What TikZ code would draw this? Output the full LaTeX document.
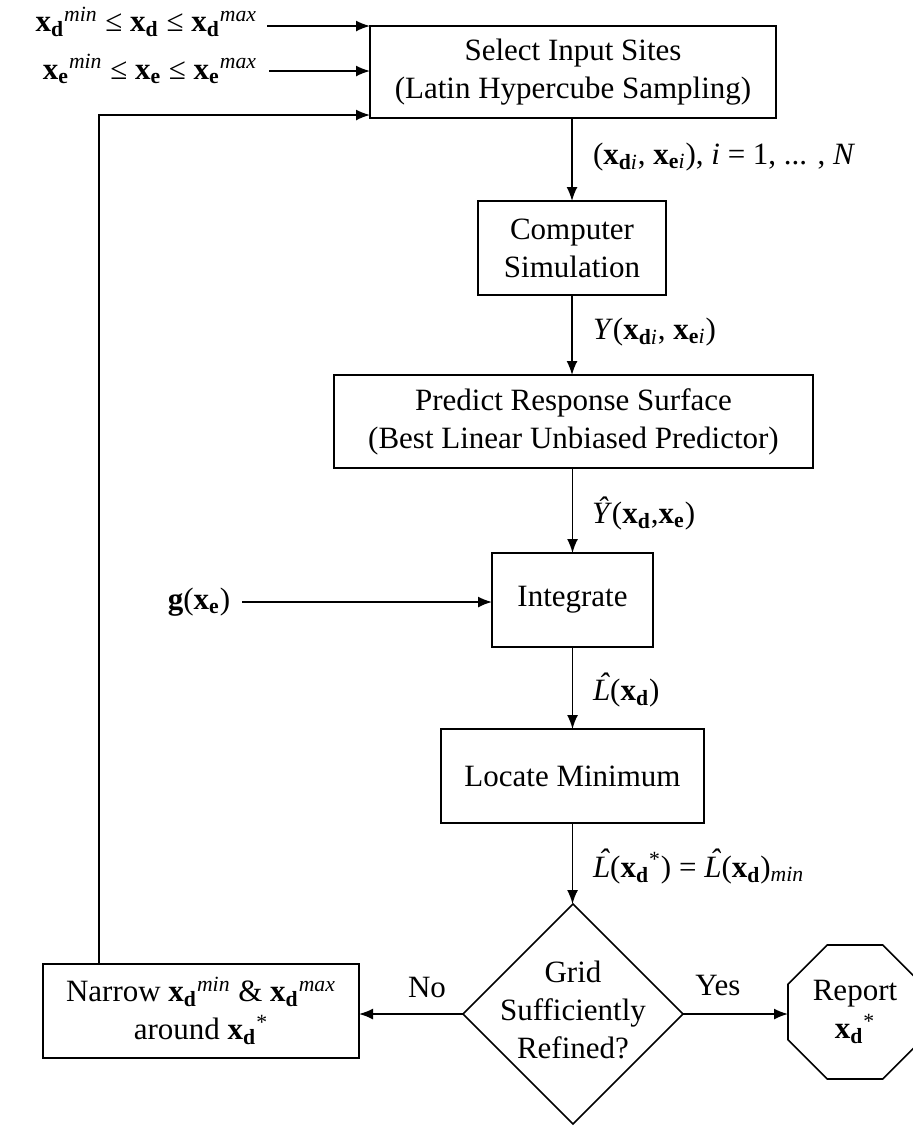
\documentclass[tikz,border=0pt]{standalone}
\usepackage{fontspec}
\setmainfont{Liberation Serif}
\usetikzlibrary{arrows.meta,shapes.geometric,calc}
\newcommand\vxd{\textbf{x}\textsubscript{\textbf{d}}}
\newcommand\vxe{\textbf{x}\textsubscript{\textbf{e}}}
\newcommand\hatL{\textit{\ooalign{L\cr\hidewidth\kern0.12em\raisebox{0.2em}{ˆ}\hidewidth\cr}}}
\begin{document}
\begin{tikzpicture}[x=0.5pt,y=-0.5pt,
  every node/.style={font=\fontsize{15.5}{19}\selectfont, inner sep=0pt, outer sep=0pt},
  box/.style={draw, line width=0.8pt, align=center},
  lbl/.style={anchor=west},
  arr/.style={line width=0.8pt, -{Latex[length=7pt,width=5.5pt]}},
  ln/.style={line width=0.8pt}]
\fill[white] (0,0) rectangle (912,1126);
\useasboundingbox (0,0) rectangle (912,1126);

% main boxes
\node[box, minimum width=203pt, minimum height=46pt] (b1) at (573,72)
  {Select Input Sites\\(Latin Hypercube Sampling)};
\node[box, minimum width=94pt, minimum height=47pt] (b2) at (572,248)
  {Computer\\Simulation};
\node[box, minimum width=239.5pt, minimum height=46.5pt] (b3) at (573.5,421.5)
  {Predict Response Surface\\(Best Linear Unbiased Predictor)};
\node[box, minimum width=80.5pt, minimum height=47pt] (b4) at (572.5,600)
  {Integrate};
\node[box, minimum width=131.5pt, minimum height=47pt] (b5) at (572.5,776)
  {Locate Minimum};
\node[draw, line width=0.8pt, diamond, aspect=1, minimum width=110pt, minimum height=110pt] (dia) at (573,1014) {};
\node[align=center] (diat) at (573,1010) {Grid\\Sufficiently\\Refined?};
\node[box, minimum width=158pt, minimum height=47pt] (nar) at (201,1011)
  {Narrow \vxd\textsuperscript{\textit{min}} \& \vxd\textsuperscript{\textit{max}}\\around \vxd\textsuperscript{*}};
\node[draw, line width=0.8pt, regular polygon, regular polygon sides=8, minimum size=72.5pt] (oct) at (855,1012) {};
\node[align=center] (octt) at (855,1012) {Report\\\vxd\textsuperscript{*}};

% input labels
\node[anchor=east] (in1) at (257,22) {\vxd\textsuperscript{\textit{min}} ≤ \vxd\ ≤ \vxd\textsuperscript{\textit{max}}};
\node[anchor=east] (in2) at (257,69) {\vxe\textsuperscript{\textit{min}} ≤ \vxe\ ≤ \vxe\textsuperscript{\textit{max}}};
\node (g) at (199,602) {\textbf{g}(\vxe)};
\coordinate (s1) at (267,26);
\coordinate (s2) at (269,71);

% edge labels
\node[lbl] (l1) at (593,157) {(\textbf{x}\textsubscript{\textbf{d}\textit{i}}, \textbf{x}\textsubscript{\textbf{e}\textit{i}}), \textit{i} = 1, ... , \textit{N}};
\node[lbl] (l2) at (593,332) {\textit{Y}(\textbf{x}\textsubscript{\textbf{d}\textit{i}}, \textbf{x}\textsubscript{\textbf{e}\textit{i}})};
\node[lbl] (l3) at (592,513) {\textit{\^{Y}}(\vxd,\vxe)};
\node[lbl] (l4) at (593,693) {\hatL(\vxd)};
\node[lbl] (l5) at (593,868) {\hatL(\vxd\textsuperscript{*}) = \hatL(\vxd)\textsubscript{\textit{min}}};
\node (no) at (427,987) {No};
\node (yes) at (718,985) {Yes};

% connectors
\draw[arr] (s1) -- (s1 -| b1.west);
\draw[arr] (s2) -- (s2 -| b1.west);
\draw[arr] (b1.south -| b2.north) -- (b2.north);
\draw[arr] (b2.south) -- (b2.south |- b3.north);
\draw[arr] (b3.south -| b4.north) -- (b4.north);
\draw[arr] (b4.south) -- (b4.south |- b5.north);
\draw[arr] (b5.south) -- (b5.south |- dia.north);
\draw[arr] (g.east) ++(12,0) -- (g.east -| b4.west);
\draw[arr] (dia.west) -- (dia.west -| nar.east);
\draw[arr] (dia.east) -- (dia.east -| oct.west);
\coordinate (fb) at (99,115);
\draw[arr] (fb |- nar.north) -- (fb) -- (fb -| b1.west);
\end{tikzpicture}
\end{document}
